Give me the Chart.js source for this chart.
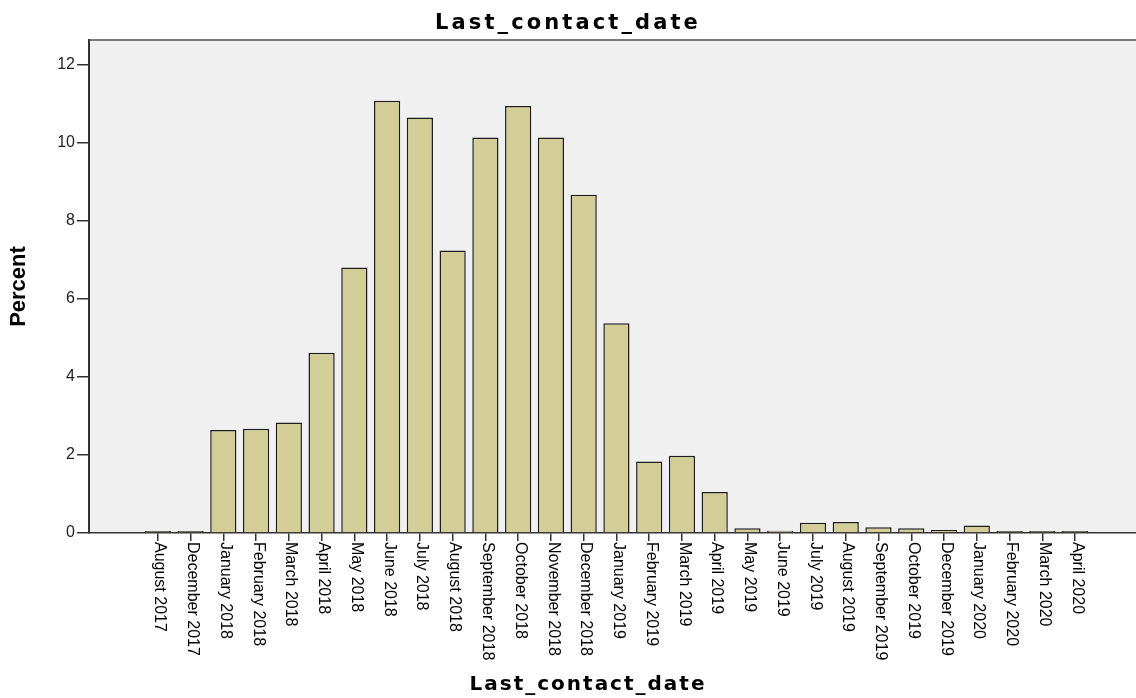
<!DOCTYPE html>
<html>
<head>
<meta charset="utf-8">
<script src="https://cdn.jsdelivr.net/npm/chart.js@4.4.1/dist/chart.umd.min.js"></script>
<style>
  html, body { margin: 0; padding: 0; background: #fff; }
  canvas { display: block; }
</style>
</head>
<body>
<canvas id="canvas" width="1136" height="698"></canvas>
<script>
// months that have at least one contact (November 2019 has none)
let months = [
  'August 2017', 'December 2017',
  'January 2018', 'February 2018', 'March 2018', 'April 2018', 'May 2018', 'June 2018',
  'July 2018', 'August 2018', 'September 2018', 'October 2018', 'November 2018', 'December 2018',
  'January 2019', 'February 2019', 'March 2019', 'April 2019', 'May 2019', 'June 2019',
  'July 2019', 'August 2019', 'September 2019', 'October 2019', 'December 2019',
  'January 2020', 'February 2020', 'March 2020', 'April 2020'
];
let percent = [
  0.03, 0.03,
  2.64, 2.67, 2.83, 4.62, 6.81, 11.08,
  10.65, 7.24, 10.14, 10.95, 10.14, 8.67,
  5.38, 1.83, 1.98, 1.05, 0.12, 0.06,
  0.26, 0.28, 0.15, 0.12, 0.08,
  0.19, 0.03, 0.03, 0.03
];
let yTicks = [0, 2, 4, 6, 8, 10, 12];
let title = 'Last_contact_date';
let yTitle = 'Percent';

// gray plot background + SPSS style texts (titles, labels turned clockwise)
let spss = {
  id: 'spss',
  beforeDraw(chart) {
    let a = chart.chartArea, ctx = chart.ctx;
    ctx.save();
    ctx.fillStyle = '#f0f0f0';
    ctx.fillRect(a.left, a.top, a.right - a.left, a.bottom - a.top);
    ctx.strokeStyle = '#7a7a7a';
    ctx.lineWidth = 2;
    ctx.beginPath();
    ctx.moveTo(a.left, a.top);
    ctx.lineTo(a.right, a.top);
    ctx.stroke();
    ctx.restore();
  },
  afterDraw(chart) {
    let ctx = chart.ctx, x = chart.scales.x;
    ctx.save();
    ctx.fillStyle = '#000';

    ctx.font = 'bold 21px "DejaVu Sans"';
    ctx.letterSpacing = '3.1px';
    ctx.textAlign = 'center';
    ctx.textBaseline = 'alphabetic';
    ctx.fillText(title, 568, 29);

    ctx.font = 'bold 20px "DejaVu Sans"';
    ctx.letterSpacing = '2px';
    ctx.fillText(title, 588, 690);

    ctx.letterSpacing = '0px';
    ctx.font = '16px "Liberation Sans"';
    ctx.textAlign = 'left';
    ctx.textBaseline = 'middle';
    months.forEach((m, i) => {
      ctx.save();
      ctx.translate(x.getPixelForValue(i) + 2, x.top + 9);
      ctx.rotate(Math.PI / 2);
      ctx.fillText(m, 0, 0);
      ctx.restore();
    });
    ctx.restore();
  }
};

let options = {
  type: 'bar',
  data: {
    datasets: [{
      data: months.map((m, i) => ({ x: i, y: percent[i] })),
      backgroundColor: '#d3ce97',
      borderColor: '#1c1c1c',
      borderWidth: 1.5,
      minBarLength: 2,
      categoryPercentage: 1.0,
      barPercentage: 0.8
    }]
  },
  options: {
    responsive: false,
    animation: false,
    devicePixelRatio: 1,
    layout: { padding: { top: 40, left: 0, right: 0, bottom: 0 } },
    plugins: {
      legend: { display: false },
      tooltip: { enabled: false },
      title: { display: false }
    },
    scales: {
      x: {
        type: 'linear',
        offset: false,
        bounds: 'data',
        min: -2.1,
        max: 29.86,
        afterBuildTicks: s => { s.ticks = months.map((m, i) => ({ value: i })); },
        afterFit: s => { s.height = 165; },
        ticks: { display: false },
        grid: { offset: false, drawOnChartArea: false, drawTicks: true, tickLength: 8, color: '#333', lineWidth: 1.5 },
        border: { color: '#333', width: 1.5 }
      },
      y: {
        min: 0,
        max: 12.64,
        bounds: 'data',
        afterBuildTicks: s => { s.ticks = yTicks.map(v => ({ value: v })); },
        afterFit: s => { s.width = 89; },
        ticks: { font: { family: 'Liberation Sans', size: 16 }, color: '#222', padding: 2 },
        grid: { drawOnChartArea: false, drawTicks: true, tickLength: 12, color: '#333', lineWidth: 1.5 },
        border: { color: '#333', width: 2 },
        title: {
          display: true,
          text: yTitle,
          font: { family: 'Liberation Sans', size: 22, weight: 'bold' },
          color: '#000',
          padding: { top: 6, bottom: 0 }
        }
      }
    }
  },
  plugins: [spss]
};

let chart = new Chart(document.getElementById('canvas'), options);
</script>
</body>
</html>
